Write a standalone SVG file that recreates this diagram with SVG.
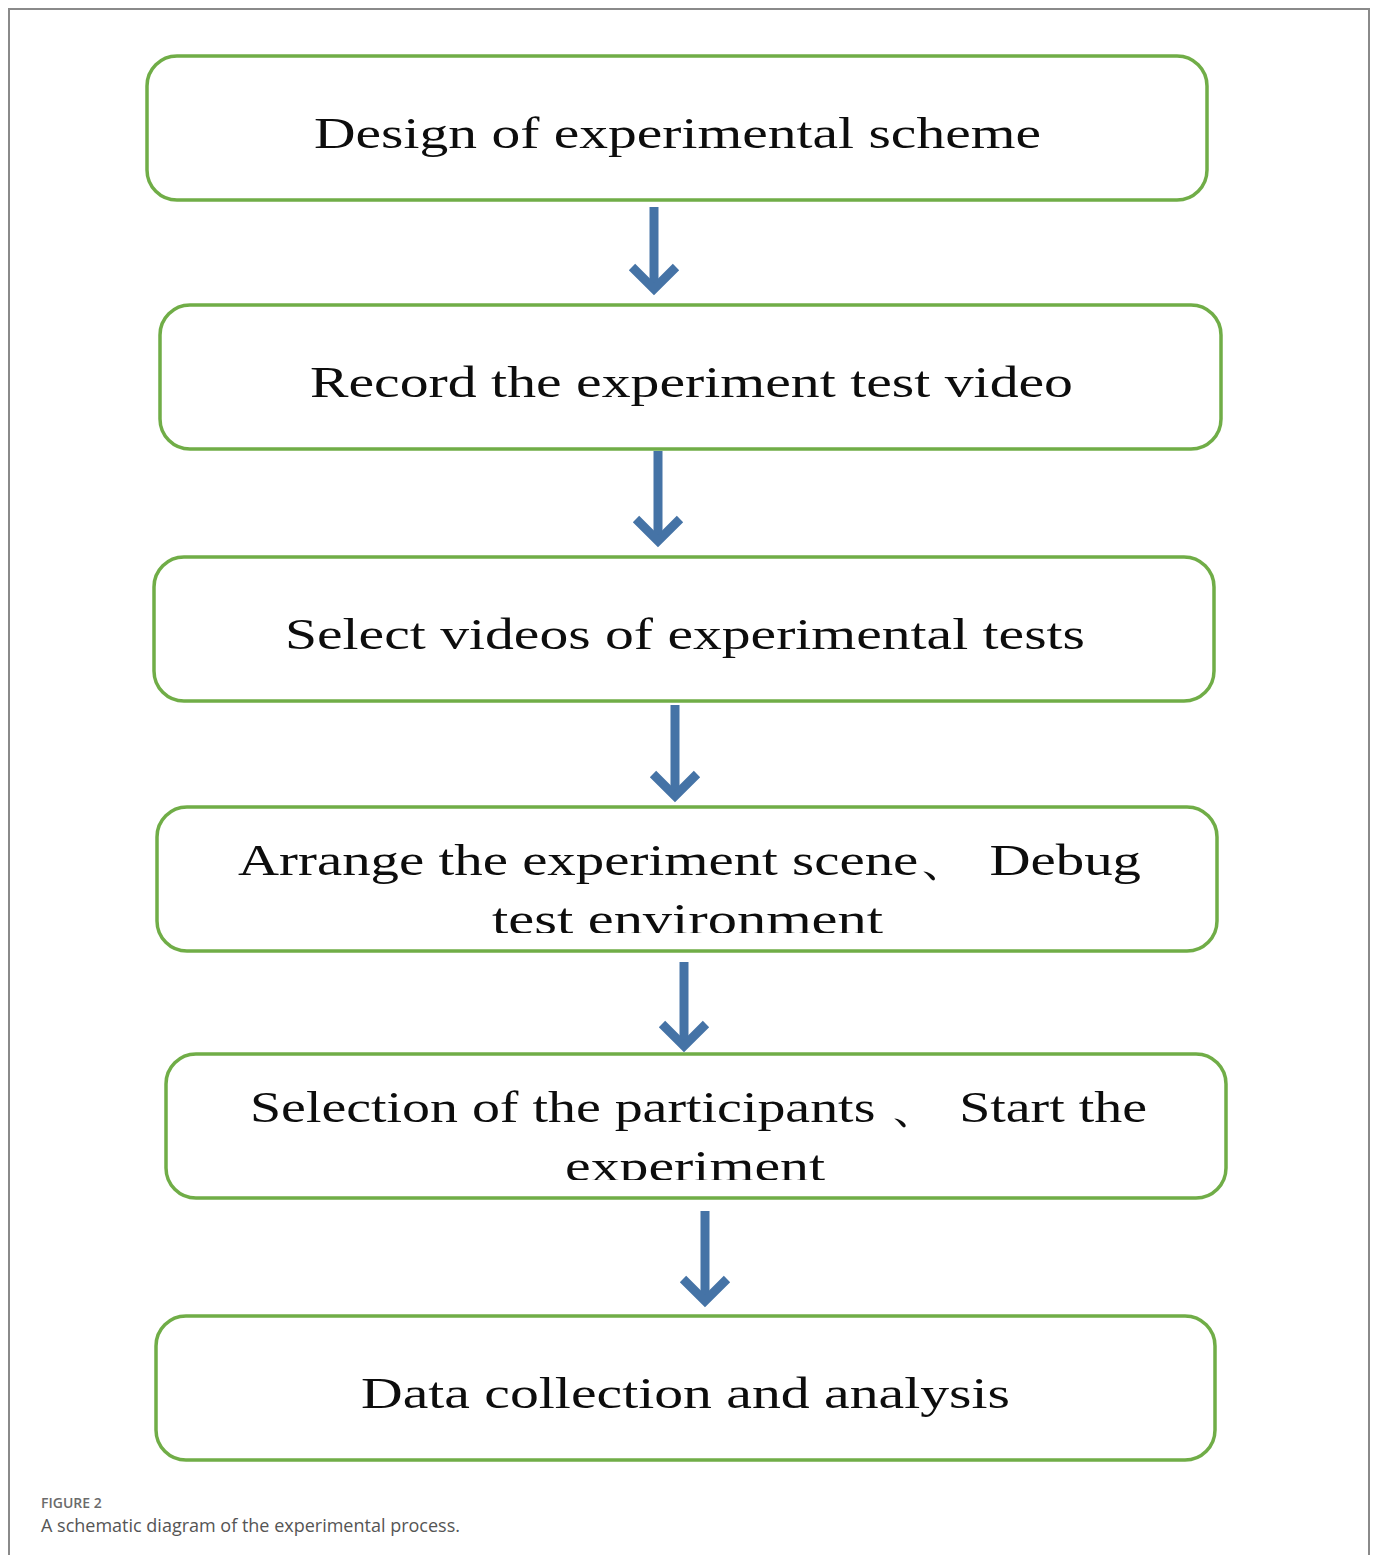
<svg xmlns="http://www.w3.org/2000/svg" width="1375" height="1555" viewBox="0 0 1375 1555">
  <style>
    .box { fill: #ffffff; stroke: #70ad47; stroke-width: 3.5; }
    .lbl { font-family: "Liberation Serif", "Times New Roman", serif; font-size: 44px; fill: #0d0d0d; }
    .arrow { fill: none; stroke: #4573a6; stroke-width: 9; stroke-linecap: butt; stroke-linejoin: miter; }
    .cap-title { font-family: "Open Sans", "Liberation Sans", sans-serif; font-size: 14px; font-weight: 600; fill: #6b6b6b; }
    .cap-text { font-family: "Open Sans", "Liberation Sans", sans-serif; font-size: 18px; fill: #555555; }
  </style>
  <defs>
    <clipPath id="clip4"><rect x="157" y="807" width="1060" height="126"/></clipPath>
    <clipPath id="clip5"><rect x="166" y="1054" width="1060" height="126"/></clipPath>
  </defs>

  <rect width="1375" height="1555" fill="#ffffff"/>
  <!-- outer frame -->
  <path d="M9 1555 V9 H1369 V1555" fill="none" stroke="#8a8a8a" stroke-width="2"/>

  <g id="connectors">
    <g id="arrow1"><path class="arrow" d="M654 207 V289"/><path class="arrow" d="M632 267 L654 289 L676 267"/></g>
    <g id="arrow2"><path class="arrow" d="M658 451 V541"/><path class="arrow" d="M636 519 L658 541 L680 519"/></g>
    <g id="arrow3"><path class="arrow" d="M675 705 V796"/><path class="arrow" d="M653 774 L675 796 L697 774"/></g>
    <g id="arrow4"><path class="arrow" d="M684 962 V1046"/><path class="arrow" d="M662 1024 L684 1046 L706 1024"/></g>
    <g id="arrow5"><path class="arrow" d="M705 1211 V1301"/><path class="arrow" d="M683 1279 L705 1301 L727 1279"/></g>
  </g>

  <g id="node1">
    <rect class="box" x="147" y="56" width="1060" height="144" rx="30"/>
    <text class="lbl" x="314" y="148" textLength="727" lengthAdjust="spacingAndGlyphs">Design of experimental scheme</text>
  </g>
  <g id="node2">
    <rect class="box" x="160" y="305" width="1061" height="144" rx="30"/>
    <text class="lbl" x="310" y="397" textLength="763" lengthAdjust="spacingAndGlyphs">Record the experiment test video</text>
  </g>
  <g id="node3">
    <rect class="box" x="154" y="557" width="1060" height="144" rx="30"/>
    <text class="lbl" x="285" y="649" textLength="800" lengthAdjust="spacingAndGlyphs">Select videos of experimental tests</text>
  </g>
  <g id="node4">
    <rect class="box" x="157" y="807" width="1060" height="144" rx="30"/>
    <text class="lbl" x="238" y="875" textLength="903" lengthAdjust="spacingAndGlyphs">Arrange the experiment scene、 Debug</text>
    <text class="lbl" x="492" y="934" textLength="391" lengthAdjust="spacingAndGlyphs" clip-path="url(#clip4)">test environment</text>
  </g>
  <g id="node5">
    <rect class="box" x="166" y="1054" width="1060" height="144" rx="30"/>
    <text class="lbl" x="250" y="1122" textLength="897" lengthAdjust="spacingAndGlyphs">Selection of the participants 、 Start the</text>
    <text class="lbl" x="565" y="1181" textLength="260" lengthAdjust="spacingAndGlyphs" clip-path="url(#clip5)">experiment</text>
  </g>
  <g id="node6">
    <rect class="box" x="156" y="1316" width="1059" height="144" rx="30"/>
    <text class="lbl" x="361" y="1408" textLength="649" lengthAdjust="spacingAndGlyphs">Data collection and analysis</text>
  </g>

  <g id="caption">
    <text class="cap-title" x="41" y="1508">FIGURE 2</text>
    <text class="cap-text" x="41" y="1532">A schematic diagram of the experimental process.</text>
  </g>
</svg>
